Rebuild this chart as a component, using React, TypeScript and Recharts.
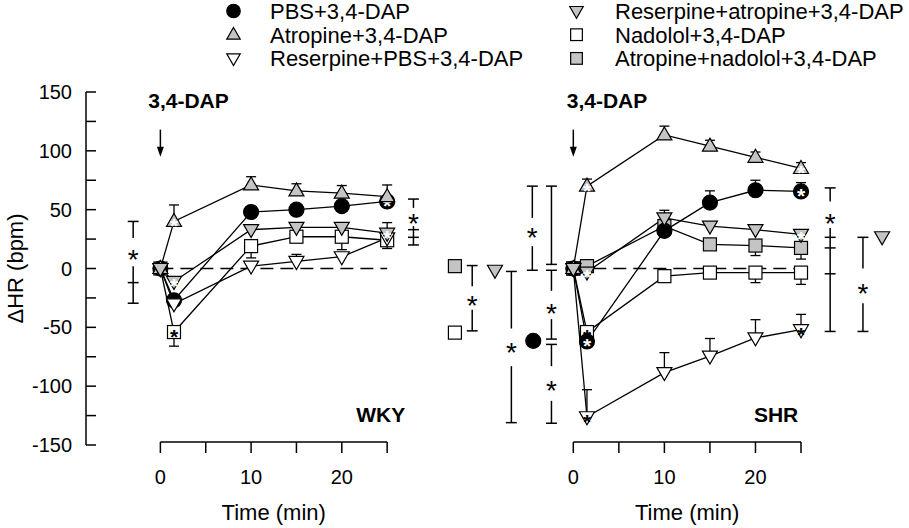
import React from 'react';
import { LineChart, Line, XAxis, YAxis, ErrorBar, ReferenceLine, ReferenceDot, Legend } from 'recharts';

const FONT = '"Liberation Sans", Arial, Helvetica, sans-serif';
const GRAY = '#c4c4c4';

// sampling times (min) and axis ticks
const TIMES = [0, 1.5, 10, 15, 20, 25];
const X_TICKS = [0, 5, 10, 15, 20, 25];
const Y_TICKS = [-150, -125, -100, -75, -50, -25, 0, 25, 50, 75, 100, 125, 150];

// WKY, mean ΔHR (bpm)
const WKY_PBS = [0, -27, 48, 50, 53, 57];
const WKY_ATROPINE = [0, 40, 71, 66, 64, 61];
const WKY_RES_PBS = [0, -30, 2, 6, 10, 26];
const WKY_RES_ATROPINE = [0, -11, 33, 35, 35, 30];
const WKY_NADOLOL = [0, -54, 19, 27, 27, 24];
// WKY, SEM (one-sided as drawn)
const WKY_ATROPINE_UP = [0, 14, 7, 6, 6.5, 10];
const WKY_RES_PBS_UP = [0, 0, 0, 6, 0, 0];
const WKY_RES_ATROPINE_UP = [0, 0, 0, 0, 0, 9];
const WKY_NADOLOL_DOWN = [0, 12, 10, 0, 11, 7];

// SHR, mean ΔHR (bpm)
const SHR_PBS = [0, -62, 32, 56, 66.5, 65.5];
const SHR_ATROPINE = [0, 70, 113.5, 104, 94.5, 85];
const SHR_RES_PBS = [0, -126, -88.5, -74.5, -59, -52];
const SHR_RES_ATROPINE = [0, -3, 43, 36, 33, 29];
const SHR_NADOLOL = [0, -54, -6.5, -3.5, -3.5, -3.5];
const SHR_ATR_NADOLOL = [0, 2, 36, 20.5, 19.5, 17.5];
// SHR, SEM
const SHR_PBS_UP = [0, 0, 0, 10, 8.5, 7.5];
const SHR_ATROPINE_UP = [0, 6, 7.5, 5, 4.5, 5];
const SHR_RES_PBS_UP = [0, 23, 17, 15, 15.5, 13];
const SHR_RES_ATROPINE_UP = [0, 0, 6.5, 0, 0, 0];
const SHR_NADOLOL_DOWN = [0, 0, 0, 4, 8.5, 10];
const SHR_ATR_NADOLOL_DOWN = [0, 0, 0, 4, 8.5, 9.5];

const SERIES_META = {
  pbs: { name: 'PBS+3,4-DAP', shape: 'circle', fill: '#000' },
  atropine: { name: 'Atropine+3,4-DAP', shape: 'up', fill: GRAY },
  resPbs: { name: 'Reserpine+PBS+3,4-DAP', shape: 'down', fill: '#fff' },
  resAtropine: { name: 'Reserpine+atropine+3,4-DAP', shape: 'down', fill: GRAY },
  nadolol: { name: 'Nadolol+3,4-DAP', shape: 'square', fill: '#fff' },
  atrNadolol: { name: 'Atropine+nadolol+3,4-DAP', shape: 'square', fill: GRAY },
};
const LEGEND_COLUMNS = [
  ['pbs', 'atropine', 'resPbs'],
  ['resAtropine', 'nadolol', 'atrNadolol'],
];

const WKY_SERIES = [
  { key: 'nadolol', values: WKY_NADOLOL, down: WKY_NADOLOL_DOWN, stars: [1] },
  { key: 'pbs', values: WKY_PBS, stars: [5] },
  { key: 'atropine', values: WKY_ATROPINE, up: WKY_ATROPINE_UP, stars: [1] },
  { key: 'resPbs', values: WKY_RES_PBS, up: WKY_RES_PBS_UP, stars: [] },
  { key: 'resAtropine', values: WKY_RES_ATROPINE, up: WKY_RES_ATROPINE_UP, stars: [1, 5] },
];
const SHR_SERIES = [
  { key: 'nadolol', values: SHR_NADOLOL, down: SHR_NADOLOL_DOWN, stars: [1] },
  { key: 'atrNadolol', values: SHR_ATR_NADOLOL, down: SHR_ATR_NADOLOL_DOWN, stars: [] },
  { key: 'pbs', values: SHR_PBS, up: SHR_PBS_UP, stars: [1, 5] },
  { key: 'atropine', values: SHR_ATROPINE, up: SHR_ATROPINE_UP, stars: [1, 5] },
  { key: 'resPbs', values: SHR_RES_PBS, up: SHR_RES_PBS_UP, stars: [1, 5] },
  { key: 'resAtropine', values: SHR_RES_ATROPINE, up: SHR_RES_ATROPINE_UP, stars: [1, 5] },
];

// significance brackets: x in min, spans/caps/stars in bpm
const WKY_BRACKETS = [
  { t: -3, spans: [[40, 26], [2, -29.5]], caps: [40, -12, -29.5], stars: [13] },
  { t: 27.9, spans: [[59, 51.5], [36, 20]], caps: [59, 33, 26.5, 20], stars: [44] },
];
const SHR_BRACKETS = [
  { t: -11.1, spans: [[2.5, -15], [-35, -53]], caps: [2.5, -53], stars: [-26] },
  { t: -6.8, spans: [[-2.5, -51], [-83, -131]], caps: [-2.5, -131], stars: [-66] },
  { t: -4.5, spans: [[70, 43], [19, -1.5]], caps: [70, -1.5], stars: [31.5] },
  {
    t: -2.4,
    spans: [[70, 3.5], [-1.5, -19], [-43, -60], [-64.5, -83], [-112.5, -131.5]],
    caps: [70, 3.5, -1.5, -60, -64.5, -131.5],
    stars: [-32.5, -98.5],
  },
  { t: 28.2, spans: [[68.5, 57], [34.5, -53.5]], caps: [68.5, 26.5, 17.5, -4.5, -53.5], stars: [44] },
  { t: 31.8, spans: [[26.5, 0], [-29.5, -53.5]], caps: [26.5, -53.5], stars: [-16] },
];
// peak values repeated beside the brackets
const SHR_SIDE_MARKERS = [
  { key: 'atrNadolol', t: -13, v: 2 },
  { key: 'nadolol', t: -13, v: -54.5 },
  { key: 'resAtropine', t: -8.6, v: -1.5 },
  { key: 'pbs', t: -4.4, v: -61.5 },
  { key: 'resAtropine', t: 33.9, v: 27 },
];

const AXIS_Y = -147.5;
const CAP = 0.6;

function buildRows(series) {
  return TIMES.map((t, i) => {
    const row: any = { t };
    series.forEach((s) => {
      row[s.key] = s.values[i];
      const up = s.up ? s.up[i] : 0;
      const dn = s.down ? s.down[i] : 0;
      row[s.key + 'Err'] = up || dn ? [dn, up] : null;
    });
    return row;
  });
}

function Marker({ cx, cy, meta, star = false, scale = 1 }: any) {
  if (cx == null || cy == null) return null;
  const k = scale;
  const common = { fill: meta.fill, stroke: '#000', strokeWidth: 1.2 };
  let body;
  if (meta.shape === 'circle') body = <circle cx={cx} cy={cy} r={7.5 * k} {...common} />;
  else if (meta.shape === 'up')
    body = <polygon points={`${cx},${cy - 8 * k} ${cx + 7.5 * k},${cy + 5 * k} ${cx - 7.5 * k},${cy + 5 * k}`} {...common} />;
  else if (meta.shape === 'down')
    body = <polygon points={`${cx - 7.5 * k},${cy - 5 * k} ${cx + 7.5 * k},${cy - 5 * k} ${cx},${cy + 8 * k}`} {...common} />;
  else body = <rect x={cx - 6.5 * k} y={cy - 6.5 * k} width={13 * k} height={13 * k} {...common} />;
  return (
    <g>
      {body}
      {star && (
        <text x={cx} y={cy + 12} textAnchor="middle" fontSize={21} fontWeight="bold" fill={meta.fill === '#fff' ? '#000' : '#fff'}>
          *
        </text>
      )}
    </g>
  );
}

function Asterisk({ cx, cy }: any) {
  return (
    <text x={cx} y={cy + 16} textAnchor="middle" fontSize={28} fill="#000">
      *
    </text>
  );
}

function Arrow({ x1, y1, x2, y2 }: any) {
  return (
    <g>
      <line x1={x1} y1={y1} x2={x2} y2={y2 - 6} stroke="#000" strokeWidth={1.5} />
      <polygon points={`${x2 - 3.5},${y2 - 10} ${x2 + 3.5},${y2 - 10} ${x2},${y2}`} fill="#000" />
    </g>
  );
}

function TimeTick({ x, y, payload }: any) {
  return (
    <g>
      <line x1={x} x2={x} y1={y - 3} y2={y + 8} stroke="#000" strokeWidth={1.5} />
      {payload.value % 10 === 0 && (
        <text x={x} y={y + 39} textAnchor="middle" fontSize={20} fill="#000">
          {payload.value}
        </text>
      )}
    </g>
  );
}

function LegendBox() {
  return (
    <svg width={690} height={72} style={{ display: 'block', overflow: 'visible' }}>
      {LEGEND_COLUMNS.map((col, ci) =>
        col.map((key, ri) => {
          const meta = SERIES_META[key];
          const y = 11 + ri * 23.7;
          return (
            <g key={key}>
              <Marker cx={ci === 0 ? 13.5 : 356.5} cy={y} meta={meta} scale={0.9} />
              <text x={ci === 0 ? 50 : 395} y={y + 7.8} fontSize={22} fill="#000" fontFamily={FONT}>
                {meta.name}
              </text>
            </g>
          );
        })
      )}
    </svg>
  );
}

function bracketElements(b, id) {
  const els = [];
  b.spans.forEach(([a, c], i) =>
    els.push(
      <ReferenceLine key={`${id}-s${i}`} segment={[{ x: b.t, y: a }, { x: b.t, y: c }]} stroke="#000" strokeWidth={1.5} ifOverflow="visible" />
    )
  );
  b.caps.forEach((v, i) =>
    els.push(
      <ReferenceLine key={`${id}-c${i}`} segment={[{ x: b.t - CAP, y: v }, { x: b.t + CAP, y: v }]} stroke="#000" strokeWidth={1.5} ifOverflow="visible" />
    )
  );
  b.stars.forEach((v, i) =>
    els.push(<ReferenceDot key={`${id}-a${i}`} x={b.t} y={v} ifOverflow="visible" shape={(p) => <Asterisk cx={p.cx} cy={p.cy} />} />)
  );
  return els;
}

function Panel({ series, brackets, sideMarkers = [], domain, width, margin, showYAxis, tag, dapT, legend = false }: any) {
  const rows = buildRows(series);
  const xTitle = ({ viewBox }: any) => {
    const cx = viewBox.x + (viewBox.width * (12.5 - domain[0])) / (domain[1] - domain[0]);
    return (
      <text x={cx} y={viewBox.y + 75} textAnchor="middle" fontSize={22} fill="#000">
        Time (min)
      </text>
    );
  };
  const yTitle = ({ viewBox }: any) => {
    const cx = viewBox.x + 15;
    const cy = viewBox.y + viewBox.height / 2;
    return (
      <text x={cx} y={cy} transform={`rotate(-90 ${cx} ${cy})`} textAnchor="middle" dominantBaseline="central" fontSize={22} fill="#000">
        ΔHR (bpm)
      </text>
    );
  };

  return (
    <LineChart width={width} height={528} data={rows} margin={margin}>
      <XAxis
        dataKey="t"
        type="number"
        domain={domain}
        ticks={X_TICKS}
        interval={0}
        axisLine={false}
        tickLine={false}
        tickSize={0}
        tickMargin={0}
        height={60}
        tick={(p) => <TimeTick {...p} />}
        label={xTitle}
      />
      {showYAxis ? (
        <YAxis
          type="number"
          domain={[-150, 150]}
          ticks={Y_TICKS}
          interval={0}
          width={86}
          tickSize={-10}
          tickMargin={24}
          tickFormatter={(v) => (v % 50 === 0 ? String(v) : '')}
          tick={{ fill: '#000', fontSize: 20 }}
          axisLine={{ stroke: '#000', strokeWidth: 1.5 }}
          tickLine={{ stroke: '#000', strokeWidth: 1.5 }}
          label={yTitle}
        />
      ) : (
        <YAxis type="number" domain={[-150, 150]} hide />
      )}
      {legend && (
        <Legend
          layout="horizontal"
          verticalAlign="middle"
          align="center"
          wrapperStyle={{ left: 220, top: 0, width: 690, height: 72 }}
          content={() => <LegendBox />}
        />
      )}
      <ReferenceLine segment={[{ x: 0, y: AXIS_Y }, { x: 25, y: AXIS_Y }]} stroke="#000" strokeWidth={1.6} ifOverflow="visible" />
      <ReferenceLine segment={[{ x: 0, y: 0 }, { x: 25, y: 0 }]} stroke="#000" strokeWidth={1.5} strokeDasharray="13 7" ifOverflow="visible" />
      <ReferenceLine segment={[{ x: 0, y: 118 }, { x: 0, y: 95 }]} ifOverflow="visible" shape={(p) => <Arrow {...p} />} />
      <ReferenceDot
        x={dapT}
        y={143}
        ifOverflow="visible"
        shape={(p) => (
          <text x={p.cx} y={p.cy + 7.5} textAnchor="middle" fontSize={21} fontWeight="bold" fill="#000">
            3,4-DAP
          </text>
        )}
      />
      <ReferenceDot
        x={tag.t}
        y={-124.5}
        ifOverflow="visible"
        shape={(p) => (
          <text x={p.cx} y={p.cy + 7.5} textAnchor="end" fontSize={21} fontWeight="bold" fill="#000">
            {tag.text}
          </text>
        )}
      />
      {brackets.flatMap((b, i) => bracketElements(b, `b${i}`))}
      {sideMarkers.map((m, i) => (
        <ReferenceDot
          key={`m${i}`}
          x={m.t}
          y={m.v}
          ifOverflow="visible"
          shape={(p) => <Marker cx={p.cx} cy={p.cy} meta={SERIES_META[m.key]} />}
        />
      ))}
      {series.map((s) => {
        const meta = SERIES_META[s.key];
        return (
          <Line
            key={s.key}
            dataKey={s.key}
            name={meta.name}
            stroke="#000"
            strokeWidth={1.3}
            isAnimationActive={false}
            activeDot={false}
            dot={(p) => <Marker key={`${s.key}-${p.index}`} cx={p.cx} cy={p.cy} meta={meta} star={s.stars.includes(p.index)} />}
          >
            <ErrorBar dataKey={s.key + 'Err'} stroke="#000" strokeWidth={1.3} width={5} direction="y" />
          </Line>
        );
      })}
    </LineChart>
  );
}

export default function App() {
  return (
    <div style={{ position: 'absolute', left: 0, top: 0, width: 909, height: 528, background: '#fff', fontFamily: FONT }}>
      <div style={{ position: 'absolute', left: 440, top: 0 }}>
        <Panel
          series={SHR_SERIES}
          brackets={SHR_BRACKETS}
          sideMarkers={SHR_SIDE_MARKERS}
          domain={[-14, 36]}
          width={469}
          margin={{ top: 92, right: 7.8, bottom: 23, left: 5.8 }}
          showYAxis={false}
          tag={{ text: 'SHR', t: 24.7 }}
          dapT={3.7}
        />
      </div>
      <div style={{ position: 'absolute', left: 0, top: 0 }}>
        <Panel
          series={WKY_SERIES}
          brackets={WKY_BRACKETS}
          domain={[-8.2, 30]}
          width={450}
          margin={{ top: 92, right: 17.5, bottom: 23, left: 0 }}
          showYAxis
          tag={{ text: 'WKY', t: 27 }}
          dapT={3.1}
          legend
        />
      </div>
    </div>
  );
}
